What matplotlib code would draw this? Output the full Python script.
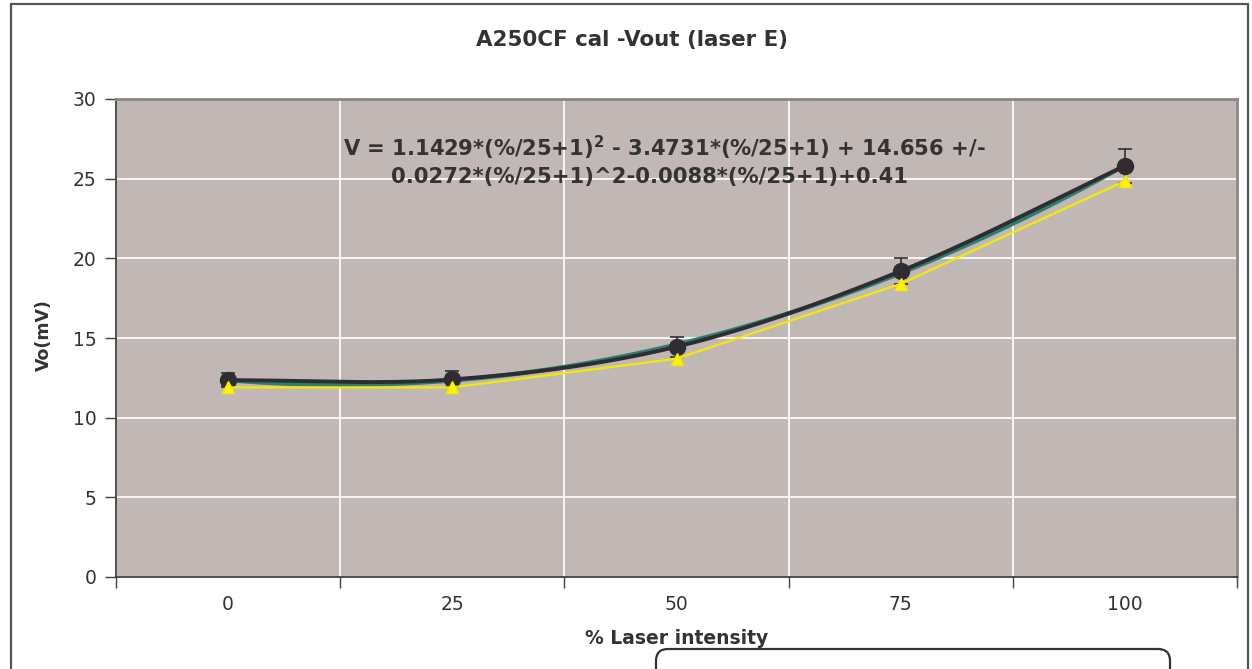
import numpy as np
import matplotlib
matplotlib.use("Agg")
import matplotlib.pyplot as plt
from matplotlib.patches import Rectangle, FancyBboxPatch

# ---- data ----
categories = ["0", "25", "50", "75", "100"]
vout_mean = [12.35, 12.4, 14.45, 19.2, 25.8]      # black circles
vout_err = [0.43, 0.50, 0.63, 0.81, 1.05]         # +/- error
vout_low = [11.9, 11.9, 13.7, 18.4, 24.85]        # yellow triangles
y_ticks = [0, 5, 10, 15, 20, 25, 30]

title = "A250CF cal -Vout (laser E)"
eq_line1 = "V = 1.1429*(%/25+1)$^2$ - 3.4731*(%/25+1) + 14.656 +/-"
eq_line2 = "0.0272*(%/25+1)^2-0.0088*(%/25+1)+0.41"

plt.rcParams['font.family'] = ['DejaVu Sans']
plt.rcParams['mathtext.fontset'] = 'custom'
plt.rcParams['mathtext.rm'] = 'DejaVu Sans:bold'
plt.rcParams['mathtext.it'] = 'DejaVu Sans:bold'
plt.rcParams['mathtext.bf'] = 'DejaVu Sans:bold'
plt.rcParams['mathtext.default'] = 'rm'

W, H = 1252, 669
fig = plt.figure(figsize=(W / 100, H / 100), dpi=100)
fig.patch.set_facecolor("white")

L, R, T, B = 116, 1237, 99, 577
ax = fig.add_axes([L / W, 1 - B / H, (R - L) / W, (B - T) / H])
ax.set_facecolor("#C1B8B5")

x = np.arange(len(categories))
ax.set_xlim(-0.5, len(categories) - 0.5)
ax.set_ylim(0, 30)

ax.set_xticks(x)
ax.set_xticklabels(categories)
ax.set_xticks(np.arange(-0.5, len(categories)), minor=True)
ax.tick_params(axis="x", which="major", length=0, pad=13, labelsize=13.5, colors="#333333")
ax.tick_params(axis="x", which="minor", length=8, width=1, color="#404040", direction="out")
ax.set_yticks(y_ticks)
ax.tick_params(axis="y", length=8, width=1, color="#404040", pad=6, labelsize=13.5, labelcolor="#333333")
ax.grid(True, axis="y", which="major", color="white", lw=1.2)
ax.grid(True, axis="x", which="minor", color="white", lw=1.2)
ax.grid(False, axis="x", which="major")
ax.set_axisbelow(True)

for s in ["left", "bottom"]:
    ax.spines[s].set_color("#404040")
    ax.spines[s].set_linewidth(1.3)
for s in ["top", "right"]:
    ax.spines[s].set_color("#8E8585")
    ax.spines[s].set_linewidth(2)

# polynomial trendline (fit of the black series, x = %/25+1)
coef = np.polyfit(x + 1, vout_mean, 2)
xf = np.linspace(0, len(categories) - 1, 300)
ax.plot(xf, np.polyval(coef, xf + 1), color="#2E7D70", lw=3.2, zorder=3, solid_capstyle="round")

# smoothed line through black points (spreadsheet-style smoothing)
def smooth(xs, ys, n=40):
    xs = np.asarray(xs, float); ys = np.asarray(ys, float)
    P = np.column_stack([xs, ys])
    P = np.vstack([2 * P[0] - P[1], P, 2 * P[-1] - P[-2]])
    out = []
    for i in range(1, len(P) - 2):
        p0, p1, p2, p3 = P[i - 1], P[i], P[i + 1], P[i + 2]
        t = np.linspace(0, 1, n)[:, None]
        seg = 0.5 * ((2 * p1) + (-p0 + p2) * t + (2 * p0 - 5 * p1 + 4 * p2 - p3) * t ** 2
                     + (-p0 + 3 * p1 - 3 * p2 + p3) * t ** 3)
        out.append(seg)
    out = np.vstack(out)
    return out[:, 0], out[:, 1]

sx, sy = smooth(x, vout_mean)
ax.plot(sx, sy, color="#2E2E32", lw=2.8, zorder=4)
ax.errorbar(x, vout_mean, yerr=vout_err, fmt="o", color="#2E2E32", ms=11.5,
            ecolor="#2E2E32", elinewidth=1.2, capsize=5, capthick=1.2, zorder=5)

# yellow series
ax.plot(x, vout_low, color="#F2EA00", lw=1.6, marker="^", ms=8, mfc="#FFF200",
        mec="#F2EA00", zorder=6)

# texts
fig.text(632 / W, 1 - 40 / H, title, ha="center", va="center", fontsize=15.4,
         fontweight="bold", color="#333333")
fig.text(664 / W, 1 - 148 / H, eq_line1, ha="center", va="center", fontsize=15.2,
         fontweight="bold", color="#333333")
fig.text(649 / W, 1 - 177 / H, eq_line2, ha="center", va="center", fontsize=15.2,
         fontweight="bold", color="#333333")
fig.text(677 / W, 1 - 638 / H, "% Laser intensity", ha="center", va="center",
         fontsize=13.5, fontweight="bold", color="#333333")
fig.text(44 / W, 1 - 335 / H, "Vo(mV)", ha="center", va="center", rotation=90,
         fontsize=12.5, fontweight="bold", color="#333333")

# outer chart border (extends past bottom)
fig.patches.append(Rectangle((11 / W, -0.1), (1248 - 11) / W, 1.1 - 4 / H,
                             transform=fig.transFigure, fill=False, ec="#555555", lw=1.6))
# legend box (mostly cut off)
fig.patches.append(FancyBboxPatch((6.56, -0.4), (1170 - 656) / 100, (669 - 649) / 100 + 0.4,
                                  boxstyle="round,pad=0,rounding_size=0.12",
                                  transform=fig.dpi_scale_trans, fc="white", ec="#333333", lw=1.6))

fig.savefig("out.png", dpi=100)
